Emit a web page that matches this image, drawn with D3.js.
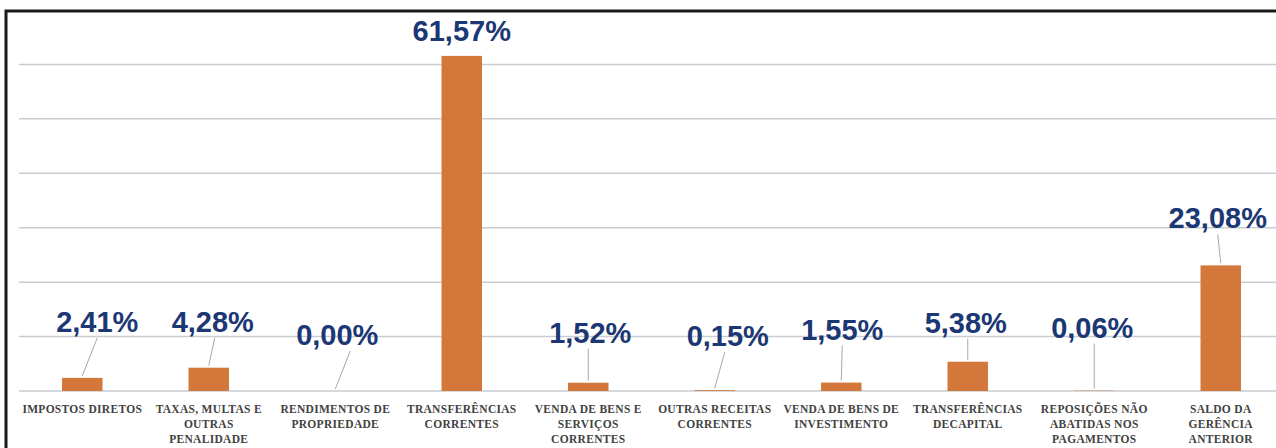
<!DOCTYPE html>
<html lang="pt">
<head>
  <meta charset="UTF-8">
  <title>Receitas</title>
  <script src="https://d3js.org/d3.v7.min.js"></script>
  <style>
    body { margin: 0; background: #fff; }
    .grid line { stroke: #c9cdd1; stroke-width: 1.5; }
    .bar { fill: #d4773a; }
    .value { font-family: "Liberation Sans Narrow", "Liberation Sans", sans-serif; font-weight: bold; font-size: 29px; fill: #1b3774; }
    .cat { font-family: "Liberation Serif", serif; font-weight: bold; font-size: 11.5px; fill: #424242; letter-spacing: 0.3px; }
    .leader { stroke: #a8a8a8; stroke-width: 1; }
  </style>
</head>
<body>
  <svg width="1276" height="448"></svg>

  <script>
    // categories (label lines) and values in %
    const categories = [
      ["IMPOSTOS DIRETOS"],
      ["TAXAS, MULTAS E", "OUTRAS", "PENALIDADE"],
      ["RENDIMENTOS DE", "PROPRIEDADE"],
      ["TRANSFERÊNCIAS", "CORRENTES"],
      ["VENDA DE BENS E", "SERVIÇOS", "CORRENTES"],
      ["OUTRAS RECEITAS", "CORRENTES"],
      ["VENDA DE BENS DE", "INVESTIMENTO"],
      ["TRANSFERÊNCIAS", "DECAPITAL"],
      ["REPOSIÇÕES NÃO", "ABATIDAS NOS", "PAGAMENTOS"],
      ["SALDO DA", "GERÊNCIA", "ANTERIOR"]
    ];
    const values = [2.41, 4.28, 0.00, 61.57, 1.52, 0.15, 1.55, 5.38, 0.06, 23.08];
    const gridTicks = [0, 10, 20, 30, 40, 50, 60];

    // where each data label was dragged to: [dx from bar centre, lift above bar top]
    const labelNudge = [[15, 56], [4, 46], [2, 56], [0, 25], [2, 50], [13, 54], [1, 53], [-2, 39], [-2, 63], [-3, 47]];
    // leader start offset from label centre (null = no leader)
    const leaderDx = [0, 2, 13, null, -2, -3, 0, 2, 2, 0];

    let svg = d3.select("svg");
    let margin = { top: 10, right: -8, bottom: 57, left: 19 };
    let width = +svg.attr("width");
    let height = +svg.attr("height");

    let x = d3.scaleBand()
      .domain(d3.range(values.length))
      .range([margin.left, width - margin.right])
      .paddingInner(0.68)
      .paddingOuter(0.34);

    let y = d3.scaleLinear()
      .domain([0, 70])
      .range([height - margin.bottom, margin.top]);

    // gridlines
    svg.append("g")
      .attr("class", "grid")
      .selectAll("line")
      .data(gridTicks)
      .enter().append("line")
      .attr("x1", margin.left)
      .attr("x2", width)
      .attr("y1", d => y(d))
      .attr("y2", d => y(d));

    // bars
    svg.selectAll(".bar")
      .data(values)
      .enter().append("rect")
      .attr("class", "bar")
      .attr("x", (d, i) => x(i))
      .attr("y", d => y(d))
      .attr("width", x.bandwidth())
      .attr("height", d => y(0) - y(d));

    let cx = i => x(i) + x.bandwidth() / 2;
    let labelY = i => y(values[i]) - labelNudge[i][1];

    // leader lines
    svg.selectAll(".leader")
      .data(d3.range(values.length).filter(i => leaderDx[i] !== null))
      .enter().append("line")
      .attr("class", "leader")
      .attr("x1", i => cx(i) + labelNudge[i][0] + leaderDx[i])
      .attr("y1", i => labelY(i) + 16)
      .attr("x2", i => cx(i))
      .attr("y2", i => y(values[i]) - 2);

    // value labels
    svg.selectAll(".value")
      .data(values)
      .enter().append("text")
      .attr("class", "value")
      .attr("text-anchor", "middle")
      .attr("x", (d, i) => cx(i) + labelNudge[i][0])
      .attr("y", (d, i) => labelY(i) + 10)
      .text(d => d.toFixed(2).replace(".", ",") + "%");

    // category labels
    let cats = svg.selectAll(".cat")
      .data(categories)
      .enter().append("text")
      .attr("class", "cat")
      .attr("text-anchor", "middle")
      .attr("x", (d, i) => cx(i))
      .attr("y", y(0) + 22);

    cats.selectAll("tspan")
      .data(d => d)
      .enter().append("tspan")
      .attr("x", function() { return this.parentNode.getAttribute("x"); })
      .attr("dy", (d, j) => j === 0 ? 0 : 15)
      .text(d => d);

    // scanned frame
    svg.append("path")
      .attr("d", `M6,${height} V11 H${width}`)
      .attr("fill", "none")
      .attr("stroke", "#1a1a1a")
      .attr("stroke-width", 3);
  </script>
</body>
</html>
